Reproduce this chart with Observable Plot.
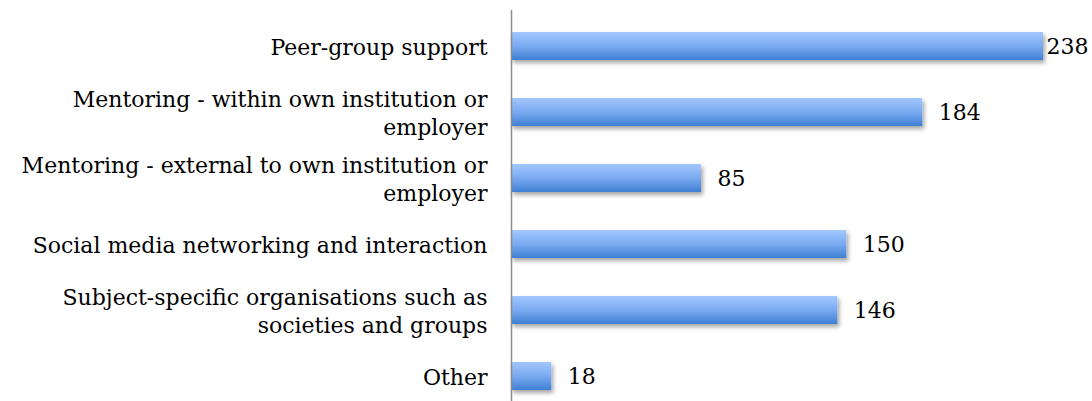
<!DOCTYPE html>
<html>
<head>
<meta charset="utf-8">
<script src="https://cdn.jsdelivr.net/npm/d3@7"></script>
<script src="https://cdn.jsdelivr.net/npm/@observablehq/plot@0.6"></script>
<style>
  html, body { margin: 0; padding: 0; background: #fff; }
  #chart svg { display: block; }
</style>
</head>
<body>
<div id="chart"></div>
<script>
const categories = [
  "Peer-group support",
  "Mentoring - within own institution or\nemployer",
  "Mentoring - external to own institution or\nemployer",
  "Social media networking and interaction",
  "Subject-specific organisations such as\nsocieties and groups",
  "Other"
];
const values = [238, 184, 85, 150, 146, 18];

const data = categories.map((c, i) => ({cat: c, value: values[i]}));
const maxV = d3.max(values);

const chart = Plot.plot({
  width: 1092,
  height: 401,
  marginLeft: 511,
  marginRight: 49,
  marginTop: 10,
  marginBottom: 0,
  style: {fontFamily: "'DejaVu Serif', serif", background: "#fff", color: "#000"},
  x: {domain: [0, maxV], axis: null},
  y: {domain: categories, range: [12, 410], paddingInner: 0.58, paddingOuter: 0.29, axis: null},
  marks: [
    Plot.barX(data, {x: "value", y: "cat", fill: "url(#barGrad)"}),
    Plot.ruleX([0], {stroke: "#8c8c8c", strokeWidth: 1.5}),
    Plot.text(data, {x: 0, y: "cat", text: "cat", dx: -24, textAnchor: "end", fontSize: 22, lineHeight: 1.27, fill: "#000"}),
    Plot.text(data, {filter: d => d.value === maxV, x: "value", y: "cat", text: d => String(d.value), dx: 3, textAnchor: "start", fontSize: 22, fill: "#000"}),
    Plot.text(data, {filter: d => d.value !== maxV, x: "value", y: "cat", text: d => String(d.value), dx: 16, textAnchor: "start", fontSize: 22, fill: "#000"})
  ]
});

const svg = chart;
const ns = "http://www.w3.org/2000/svg";
const defs = document.createElementNS(ns, "defs");
defs.innerHTML = `
  <linearGradient id="barGrad" x1="0" y1="0" x2="0" y2="1">
    <stop offset="0" stop-color="#a2c7ff"/>
    <stop offset="0.5" stop-color="#7aaaf0"/>
    <stop offset="1" stop-color="#3f7fd3"/>
  </linearGradient>
  <filter id="shadow" x="-5%" y="-30%" width="115%" height="180%">
    <feDropShadow dx="2" dy="3" stdDeviation="2" flood-color="#000" flood-opacity="0.35"/>
  </filter>`;
svg.insertBefore(defs, svg.firstChild);
const barG = svg.querySelector('g[aria-label="bar"]');
if (barG) barG.setAttribute("filter", "url(#shadow)");
document.getElementById("chart").appendChild(chart);
</script>
</body>
</html>
